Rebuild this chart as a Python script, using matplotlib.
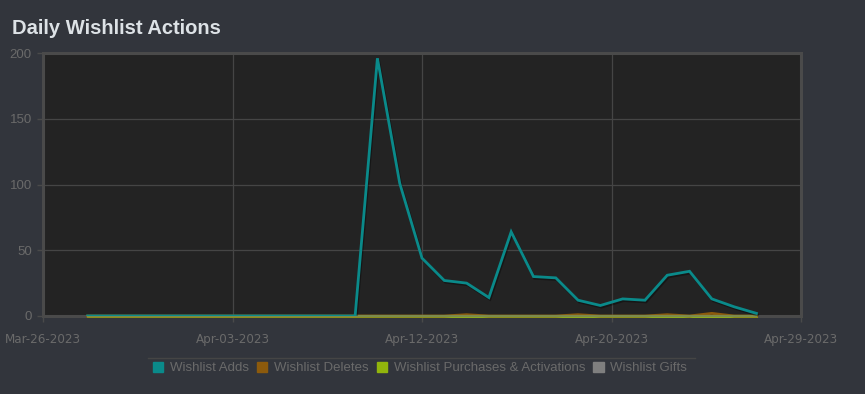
import numpy as np
import pandas as pd
import matplotlib
matplotlib.use("Agg")
import matplotlib.pyplot as plt
from matplotlib.patches import Patch
from matplotlib.lines import Line2D
import matplotlib.patheffects as pe

title = "Daily Wishlist Actions"
dates = pd.date_range("2023-03-28", "2023-04-27", freq="D")
adds = [0, 0, 0, 0, 0, 0, 0, 0, 0, 0, 0, 0, 0,
        196, 101, 44, 27, 25, 14, 64, 30, 29, 12, 8, 13, 12, 31, 34, 13, 7, 2]
deletes = [0, 0, 0, 0, 0, 0, 0, 0, 0, 0, 0, 0, 0,
           0, 0, 0, 0, 1, 0, 0, 0, 0, 1, 0, 0, 0, 1, 0, 2, 0, 0]
purchases = [0] * 31
gifts = [0] * 31
series_names = ["Wishlist Adds", "Wishlist Deletes",
                "Wishlist Purchases & Activations", "Wishlist Gifts"]
series_colors = ["#0a8a8a", "#8c5a0c", "#92b50c", "#7f7f7f"]
x_start, x_end = "2023-03-26", "2023-04-29"
x_tick_labels = ["Mar-26-2023", "Apr-03-2023", "Apr-12-2023", "Apr-20-2023", "Apr-29-2023"]
y_ticks = [0, 50, 100, 150, 200]

bg = "#32353c"
plot_bg = "#232323"
grid_c = "#454545"
text_c = "#6a6a6a"

fig = plt.figure(figsize=(8.65, 3.94), dpi=100, facecolor=bg)
ax = fig.add_axes([43 / 865, 1 - 316 / 394, (801 - 43) / 865, (316 - 53) / 394])
ax.set_facecolor(plot_bg)

t0 = pd.Timestamp(x_start)
xd = np.array([(d - t0).days for d in dates], dtype=float)
xmax = (pd.Timestamp(x_end) - t0).days

shadow = [pe.SimpleLineShadow(offset=(0.8, -1.2), shadow_color="black", alpha=0.35), pe.Normal()]
all_series = [adds, deletes, purchases, gifts]
zorders = [7, 5, 4, 3]
for i, (vals, c, z) in enumerate(zip(all_series, series_colors, zorders)):
    vals = np.array(vals, dtype=float)
    ax.plot(xd, vals, color=c, lw=2.0, solid_joinstyle="miter", zorder=z,
            path_effects=shadow if i == 0 else None, clip_on=(i == 0))
# baseline drawn like reference (olive blend of zero-valued series)
ax.plot(xd, np.array(purchases, dtype=float), color="#7c8a4c", lw=1.6, zorder=6, clip_on=False)

ax.set_xlim(0, xmax)
ax.set_ylim(0, 200)
xt = np.linspace(0, xmax, len(x_tick_labels))
ax.set_xticks(xt)
ax.set_xticklabels(x_tick_labels)
ax.set_yticks(y_ticks)
ax.set_yticklabels([str(v) for v in y_ticks])

ax.grid(True, color=grid_c, lw=0.9)
ax.set_axisbelow(True)
for s in ax.spines.values():
    s.set_color("#4a4a4a")
    s.set_linewidth(2.2)
    s.set_zorder(2)
ax.tick_params(axis="both", colors="#4a4a4a", length=4, width=1.0, labelcolor=text_c)
for lab in ax.get_xticklabels():
    lab.set_fontfamily(["DejaVu Sans"])
    lab.set_fontstretch("condensed")
    lab.set_fontsize(9.5)
for lab in ax.get_yticklabels():
    lab.set_fontfamily(["Liberation Sans", "DejaVu Sans"])
    lab.set_fontsize(9.5)
ax.tick_params(axis="x", pad=8)
ax.tick_params(axis="y", pad=4)

fig.text(12 / 865, 1 - 28 / 394, title, color="#dde2e6", fontsize=14.5,
         fontweight="bold", family=["Liberation Sans", "DejaVu Sans"], va="center", ha="left")

handles = [Patch(facecolor=c, edgecolor=c) for c in series_colors]
leg = fig.legend(handles, series_names, loc="center", bbox_to_anchor=(420 / 865, 1 - 368 / 394),
                 ncol=4, frameon=False, handlelength=0.8, handleheight=0.8, handletextpad=0.5,
                 columnspacing=0.6, prop={"family": ["Liberation Sans", "DejaVu Sans"], "size": 9.5})
for t in leg.get_texts():
    t.set_color(text_c)

fig.add_artist(Line2D([148 / 865, 695 / 865], [1 - 358 / 394, 1 - 358 / 394],
                      transform=fig.transFigure, color="#454545", lw=1.0))

fig.savefig("out.png", dpi=100, facecolor=bg)
